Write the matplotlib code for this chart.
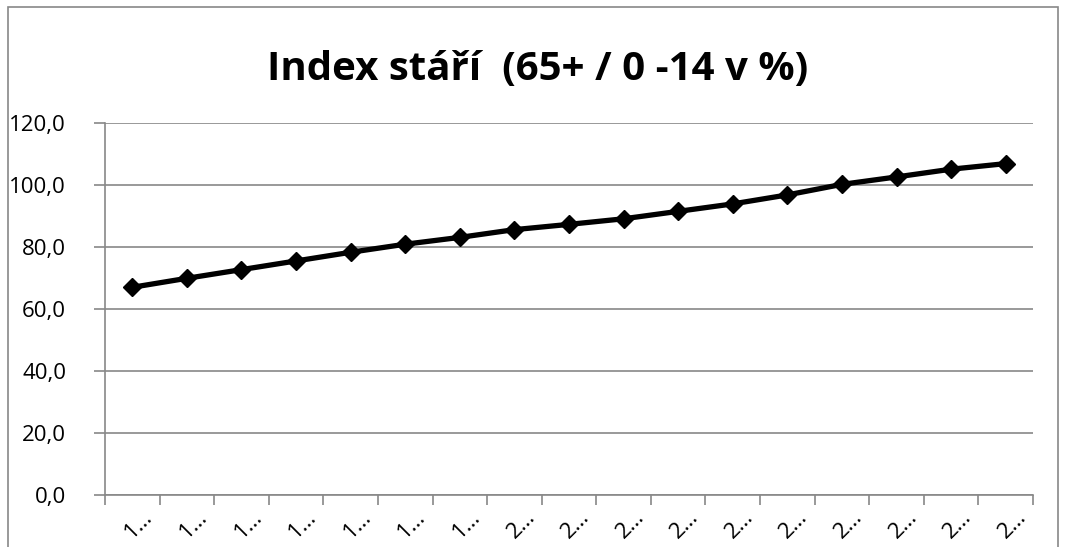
import matplotlib
matplotlib.use("Agg")
import matplotlib.pyplot as plt
from matplotlib.patches import Rectangle
from matplotlib.ticker import FixedLocator, FuncFormatter
from matplotlib.transforms import ScaledTranslation

title = "Index stáří  (65+ / 0 -14 v %)"
categories = ["1…"] * 7 + ["2…"] * 10
values = [67.0, 69.9, 72.7, 75.5, 78.3, 80.9, 83.1, 85.6, 87.3, 89.1,
          91.5, 93.9, 96.8, 100.2, 102.6, 105.1, 106.9]
yticks = [0, 20, 40, 60, 80, 100, 120]

W, H = 1065, 547
fig = plt.figure(figsize=(W / 100, H / 100), dpi=100)
plt.rcParams['font.family'] = ['Open Sans', 'DejaVu Sans']

ax = fig.add_axes([105 / W, 1 - 495 / H, (1033 - 105) / W, (495 - 123) / H])
n = len(values)
x = list(range(n))
ax.plot(x, values, color="black", lw=3.8, marker="D", markersize=9,
        markerfacecolor="black", markeredgecolor="black", zorder=3,
        solid_joinstyle="round")

ax.set_xlim(-0.5, n - 0.5)
ax.set_ylim(0, 120)
ax.set_yticks(yticks)
ax.yaxis.set_major_formatter(FuncFormatter(lambda v, p: f"{v:.1f}".replace(".", ",")))
ax.grid(axis="y", color="#888888", lw=1.2)
ax.set_axisbelow(True)

ax.set_xticks(x)
ax.set_xticklabels(categories, rotation=45, ha="right", rotation_mode="anchor", fontsize=16)
ax.tick_params(axis="x", which="major", length=0, pad=8)
off = ScaledTranslation(10 / 100, 0, fig.dpi_scale_trans)
for lab in ax.get_xticklabels():
    lab.set_transform(lab.get_transform() + off)
ax.xaxis.set_minor_locator(FixedLocator([i - 0.5 for i in range(n + 1)]))
ax.tick_params(axis="x", which="minor", length=7, width=1.2, color="#888888")
ax.tick_params(axis="y", length=8, width=1.2, color="#888888", labelsize=16, pad=20)

for s in ["top", "right"]:
    ax.spines[s].set_visible(False)
for s in ["left", "bottom"]:
    ax.spines[s].set_color("#888888")
    ax.spines[s].set_linewidth(1.2)

fig.text(538 / W, 1 - 70 / H, title, ha="center", va="center",
         fontsize=29, fontweight="bold")

fig.patches.append(Rectangle((8 / W, -0.1), (1058 - 8) / W, 1.1 - 7 / H,
                             transform=fig.transFigure, fill=False,
                             edgecolor="#888888", lw=1.2))

fig.savefig("out.png", dpi=100)
